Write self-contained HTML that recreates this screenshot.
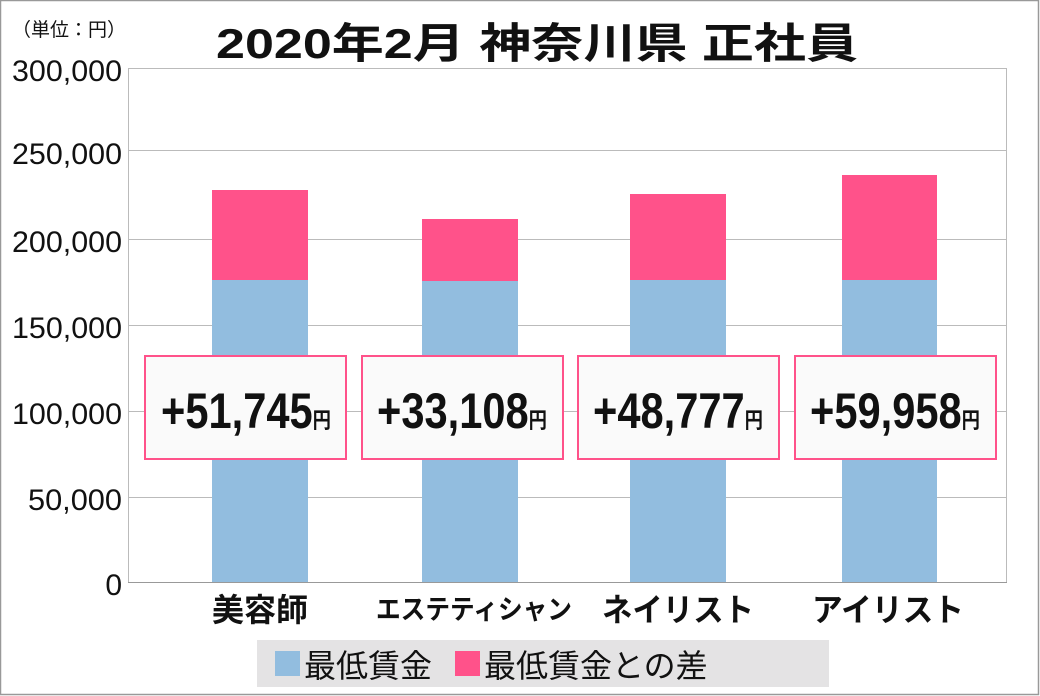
<!DOCTYPE html>
<html><head><meta charset="utf-8"><style>
html,body{margin:0;padding:0;background:#fff;}
svg{display:block;}
text{font-family:"Liberation Sans","Noto Sans CJK JP",sans-serif;}
</style></head><body>
<svg width="1040" height="696" viewBox="0 0 1040 696" xmlns="http://www.w3.org/2000/svg">
<rect x="0.5" y="0.5" width="1038" height="694" fill="#fff" stroke="#999" stroke-width="1.5"/>
<text x="12" y="36" font-size="19" fill="#111">（単位：円）</text>
<text x="216" y="58" font-size="42" font-weight="bold" fill="#111" textLength="642" lengthAdjust="spacingAndGlyphs">2020年2月 神奈川県 正社員</text>
<g stroke="#bbb" stroke-width="1">
<line x1="128" y1="68.5" x2="1007" y2="68.5"/>
<line x1="128" y1="150.5" x2="1007" y2="150.5"/>
<line x1="128" y1="239.5" x2="1007" y2="239.5"/>
<line x1="128" y1="325.5" x2="1007" y2="325.5"/>
<line x1="128" y1="411.5" x2="1007" y2="411.5"/>
<line x1="128" y1="497.5" x2="1007" y2="497.5"/>
<line x1="128.5" y1="68" x2="128.5" y2="582"/>
<line x1="1006.5" y1="68" x2="1006.5" y2="582"/>
</g>
<g font-size="30" text-anchor="end" fill="#111">
<text x="122" y="81" textLength="110" lengthAdjust="spacingAndGlyphs">300,000</text>
<text x="122" y="164" textLength="110" lengthAdjust="spacingAndGlyphs">250,000</text>
<text x="122" y="252" textLength="110" lengthAdjust="spacingAndGlyphs">200,000</text>
<text x="122" y="338" textLength="110" lengthAdjust="spacingAndGlyphs">150,000</text>
<text x="122" y="424" textLength="110" lengthAdjust="spacingAndGlyphs">100,000</text>
<text x="122" y="510" textLength="94" lengthAdjust="spacingAndGlyphs">50,000</text>
<text x="122" y="595">0</text>
</g>
<g>
<rect x="212" y="280" width="96" height="302" fill="#92bddf"/><rect x="212" y="190" width="96" height="90" fill="#ff528a"/>
<rect x="422" y="281" width="96" height="301" fill="#92bddf"/><rect x="422" y="219" width="96" height="62" fill="#ff528a"/>
<rect x="630" y="280" width="96" height="302" fill="#92bddf"/><rect x="630" y="194" width="96" height="86" fill="#ff528a"/>
<rect x="842" y="280" width="95" height="302" fill="#92bddf"/><rect x="842" y="175" width="95" height="105" fill="#ff528a"/>
</g>
<line x1="128" y1="582.5" x2="1007" y2="582.5" stroke="#999" stroke-width="1"/>
<g fill="#fafafa" stroke="#ff528a" stroke-width="2">
<rect x="145" y="356" width="201" height="103"/>
<rect x="362" y="356" width="201" height="103"/>
<rect x="578" y="356" width="201" height="103"/>
<rect x="795" y="356" width="201" height="103"/>
</g>
<g font-weight="bold" fill="#111">
<text x="161" y="428" font-size="50" textLength="170" lengthAdjust="spacingAndGlyphs">+51,745<tspan font-size="22">円</tspan></text>
<text x="377" y="428" font-size="50" textLength="170" lengthAdjust="spacingAndGlyphs">+33,108<tspan font-size="22">円</tspan></text>
<text x="593" y="428" font-size="50" textLength="170" lengthAdjust="spacingAndGlyphs">+48,777<tspan font-size="22">円</tspan></text>
<text x="810" y="428" font-size="50" textLength="170" lengthAdjust="spacingAndGlyphs">+59,958<tspan font-size="22">円</tspan></text>
</g>
<g font-weight="bold" fill="#111" font-size="32" text-anchor="middle">
<text x="260" y="621">美容師</text>
<text x="474" y="619" font-size="27" textLength="196" lengthAdjust="spacingAndGlyphs">エステティシャン</text>
<text x="678" y="621" textLength="152" lengthAdjust="spacingAndGlyphs">ネイリスト</text>
<text x="888" y="621" textLength="152" lengthAdjust="spacingAndGlyphs">アイリスト</text>
</g>
<rect x="257" y="640" width="572" height="47" fill="#e4e3e4"/>
<rect x="275" y="651" width="25" height="25" fill="#92bddf"/>
<text x="304" y="677" font-size="32" fill="#111">最低賃金</text>
<rect x="455" y="651" width="25" height="25" fill="#ff528a"/>
<text x="484" y="677" font-size="32" fill="#111">最低賃金との差</text>
</svg>
</body></html>
